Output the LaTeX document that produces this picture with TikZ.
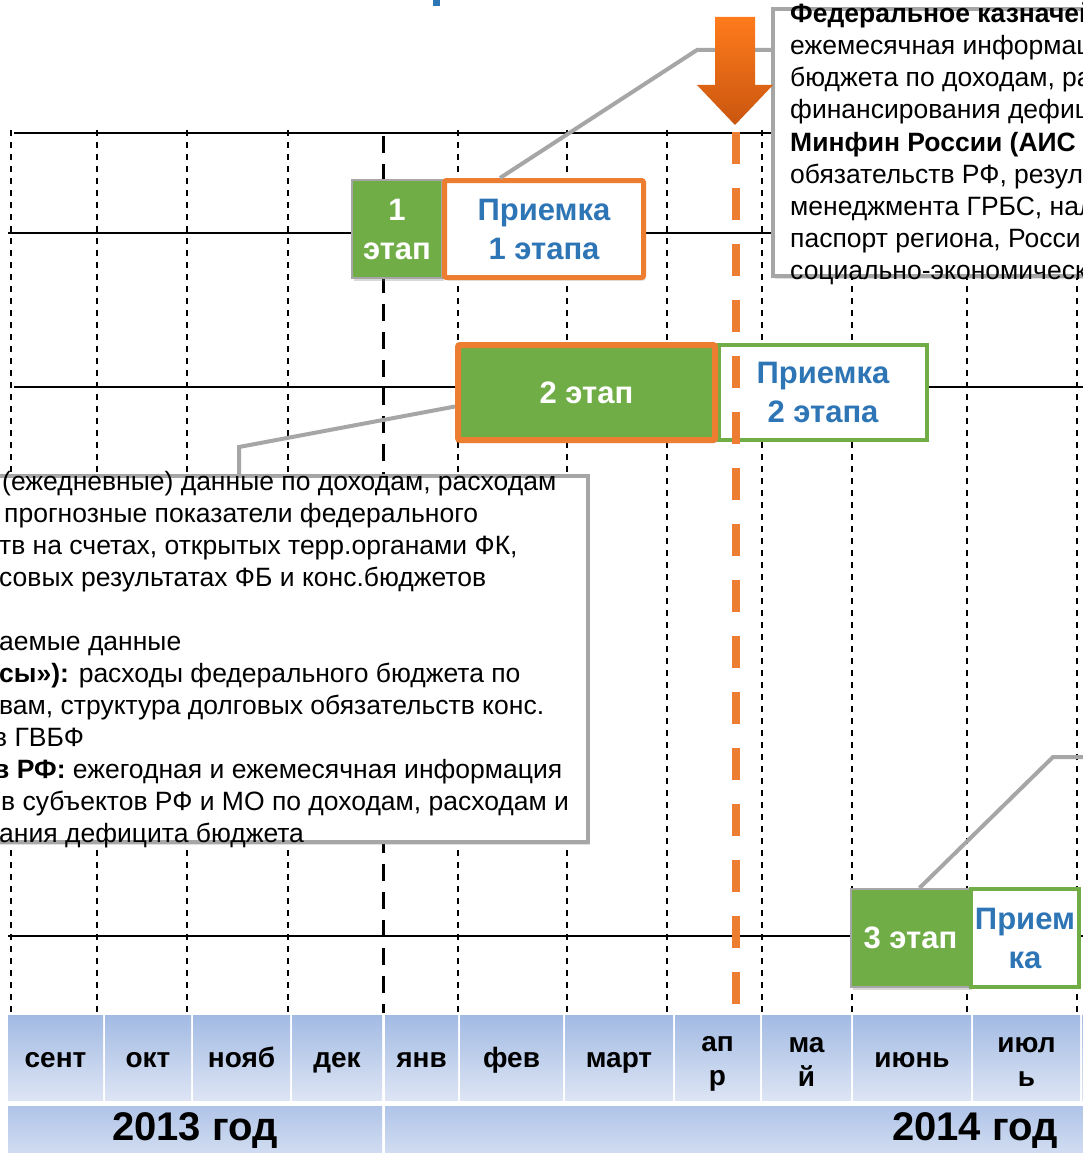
\documentclass[tikz,border=0pt]{standalone}
\usepackage{fontspec}
\setmainfont{Liberation Sans}
\usetikzlibrary{shadows}
\usetikzlibrary{calc}

\definecolor{stagegreen}{HTML}{70AD47}
\definecolor{stageorange}{HTML}{ED7D31}
\definecolor{acceptblue}{HTML}{2E75B6}
\definecolor{calloutgray}{HTML}{A6A6A6}
\definecolor{monthtop}{HTML}{A2BAE3}
\definecolor{monthbottom}{HTML}{DDE5F4}
\definecolor{yeartop}{HTML}{B0C4E8}
\definecolor{yearbottom}{HTML}{D3DEF1}
\definecolor{arrowtop}{HTML}{FF7B1C}
\definecolor{arrowbottom}{HTML}{C9560F}

\tikzstyle{gridline}=[black, line width=1.6pt]
\tikzstyle{monthline}=[black, line width=1.8pt, dash pattern=on 6pt off 6pt]
\tikzstyle{yearline}=[black, line width=3pt, dash pattern=on 17pt off 11pt]
\tikzstyle{callout}=[draw=calloutgray, line width=4pt]
\tikzstyle{infobox}=[rectangle, draw=calloutgray, fill=white, line width=4pt, inner sep=0pt, drop shadow={shadow xshift=2pt, shadow yshift=-3pt, opacity=0.25}]
\tikzstyle{infotext}=[anchor=base west, inner sep=0pt, font=\fontsize{26.5}{32}\selectfont]
\tikzstyle{stage}=[rectangle, fill=stagegreen, text=white, inner sep=0pt, align=center, font=\bfseries\fontsize{31}{39}\selectfont, drop shadow={shadow xshift=2pt, shadow yshift=-3pt, opacity=0.3}]
\tikzstyle{accept}=[rectangle, fill=white, text=acceptblue, inner sep=0pt, align=center, font=\bfseries\fontsize{31}{39}\selectfont]
\tikzstyle{monthcell}=[rectangle, top color=monthtop, bottom color=monthbottom, minimum height=85pt, inner sep=0pt]
\tikzstyle{monthlabel}=[inner sep=0pt, align=center, font=\bfseries\fontsize{28}{34}\selectfont]
\tikzstyle{yearcell}=[rectangle, top color=yeartop, bottom color=yearbottom, minimum height=50pt, inner sep=0pt, font=\bfseries\fontsize{40}{48}\selectfont]
\tikzstyle{deadline}=[stageorange, line width=8pt, dash pattern=on 32pt off 24pt]

\begin{document}
\begin{tikzpicture}[x=1pt, y=-1pt]

    \path[use as bounding box] (0,0) rectangle (1083,1153);
    \clip (0,0) rectangle (1083,1153);
    \fill[white] (0,0) rectangle (1083,1153);
    \fill[acceptblue] (433,0) rectangle (440,6);

    % grid of months
    \foreach \x/\y in {14/133, 8/233, 14/387, 8/936}
        \draw[gridline] (\x,\y) -- (1083,\y);
    \foreach \x in {11,97,187,288,458,567,667,762,852,967,1077}
        \draw[monthline] (\x,130) -- (\x,1013);
    \draw[yearline] (383,136) -- (383,1013);

    \coordinate (fedknee) at (697,50);
    \coordinate (dayknee) at (239,447);
    \coordinate (s3knee) at (1053,757);
    \coordinate (offright) at (1090,757);

    % boxes with source data
    \node[infobox, minimum width=340pt, minimum height=267pt] (fedbox) at (943,142.5) {};
    \node[infobox, minimum width=608pt, minimum height=366pt] (daybox) at (284,659) {};

    \foreach \y/\txt [count=\i] in {23/{\textbf{Федеральное казначей}}, 55/{ежемесячная информац}, 87/{бюджета по доходам, ра}, 119/{финансирования дефиц}, 151/{\textbf{Минфин России (АИС}}, 183/{обязательств РФ, резул}, 215/{менеджмента ГРБС, нал}, 247/{паспорт региона, Росси}, 279/{социально-экономическ}}
        \node[infotext] (fedline\i) at (790,\y) {\txt};

    \foreach \x/\y/\txt [count=\i] in {2/490/{(ежедневные) данные по доходам, расходам}, 4/522/{прогнозные показатели федерального}, -1/554/{тв на счетах, открытых терр.органами ФК,}, -1/586/{совых результатах ФБ и конс.бюджетов}, -1/650/{аемые данные}, -1/682/{\textbf{сы»):} расходы федерального бюджета по}, -1/714/{вам, структура долговых обязательств конс.}, -7/746/{в ГВБФ}, -7/778/{\textbf{в РФ:} ежегодная и ежемесячная информация}, 1/810/{в субъектов РФ и МО по доходам, расходам и}, -1/842/{ания дефицита бюджета}}
        \node[infotext] (dayline\i) at (\x,\y) {\txt};

    % stages
    \node[accept, draw=stagegreen, line width=4pt, minimum width=208pt, minimum height=95pt] (r2) at (823,392.5) {Приемка\\2 этапа};
    \node[stage, draw=stageorange, line width=6pt, rounded corners=2pt, minimum width=257pt, minimum height=95pt] (s2) at (586.5,392.5) {2 этап};
    \node[stage, draw=calloutgray, line width=2pt, minimum width=90pt, minimum height=98pt] (s1) at (397,229) {1\\этап};
    \node[accept, draw=stageorange, line width=5pt, rounded corners=2pt, minimum width=199pt, minimum height=97pt, drop shadow={shadow xshift=2pt, shadow yshift=-3pt, opacity=0.3}] (r1) at (544,229) {Приемка\\1 этапа};
    \node[stage, draw=calloutgray, line width=2pt, minimum width=119pt, minimum height=98pt] (s3) at (910.5,938) {3 этап};
    \node[accept, draw=stagegreen, line width=4pt, minimum width=108pt, minimum height=98pt] (r3) at (1025,938) {Прием\\ка};

    % callouts
    \draw[callout] (fedbox.west |- fedknee) -- (fedknee) -- ([xshift=-44pt]r1.north);
    \draw[callout] ([yshift=-14pt]s2.west) -- (dayknee) -- (dayknee |- daybox.north);
    \draw[callout] ([xshift=9pt]s3.north) -- (s3knee) -- (offright);

    % deadline
    \coordinate (arrowtip) at (735,125);
    \coordinate (deadlinetop) at (736,132);
    \coordinate (deadlineend) at (736,1004);
    \shade[top color=arrowtop, bottom color=arrowbottom] (715,17) -- (755,17) -- (755,85) -- (773,85) -- (arrowtip) -- (697,85) -- (715,85) -- cycle;
    \draw[deadline] (deadlinetop) -- (deadlineend);

    % months and years
    \foreach \pos/\wid/\name/\label in {55.5/95/sep/сент, 148/86/oct/окт, 241.5/97/nov/нояб, 337/90/dec/дек, 421.5/73/jan/янв, 511.5/103/feb/фев, 619/108/mar/март, 912/118/jun/июнь, 1136/108/aug/{}}
        \node[monthcell, monthlabel, minimum width=\wid pt, text height=19pt, text depth=0pt] (\name) at (\pos,1057.5) {\label};
    \foreach \pos/\wid/\name/\dy/\label in {717.5/85/apr/6/{ап\\р}, 806.5/89/may/4/{ма\\й}, 1026.5/107/jul/4/{июл\\ь}}
    {
        \node[monthcell, minimum width=\wid pt] (\name) at (\pos,1057.5) {};
        \node[monthlabel] (\name txt) at ([yshift=-\dy pt]\name.center) {\label};
    }

    \node[yearcell, minimum width=374pt] (y2013) at (195,1131) {2013 год};
    \node[yearcell, minimum width=1180pt] (y2014) at (975,1131) {2014 год};

\end{tikzpicture}
\end{document}
